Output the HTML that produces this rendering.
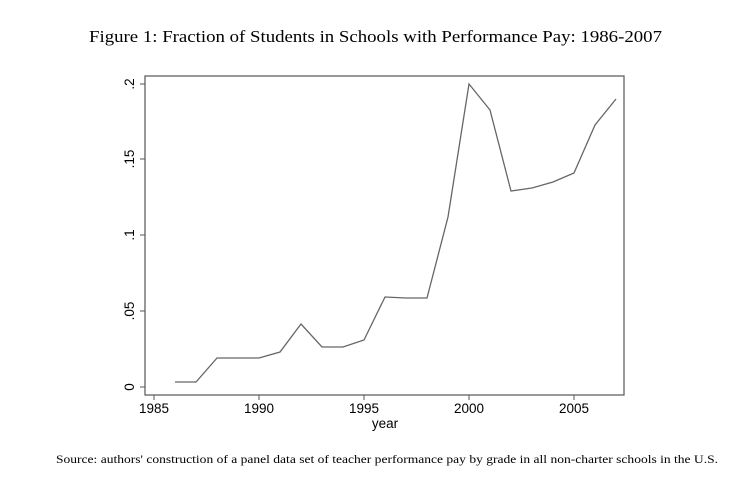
<!DOCTYPE html>
<html><head><style>body{margin:0;background:#fff}</style></head><body>
<svg width="749" height="482" xmlns="http://www.w3.org/2000/svg">
<rect width="749" height="482" fill="#fff"/>
<text x="89" y="42" textLength="573" lengthAdjust="spacingAndGlyphs" font-family="Liberation Serif, serif" font-size="17">Figure 1: Fraction of Students in Schools with Performance Pay: 1986-2007</text>
<rect x="145" y="76" width="479" height="319" fill="none" stroke="#555" stroke-width="1.2"/>
<g stroke="#555" stroke-width="1">
<line x1="140" y1="387" x2="145" y2="387"/><line x1="140" y1="311" x2="145" y2="311"/><line x1="140" y1="235" x2="145" y2="235"/><line x1="140" y1="159" x2="145" y2="159"/><line x1="140" y1="84" x2="145" y2="84"/>
<line x1="154" y1="395" x2="154" y2="400"/><line x1="259" y1="395" x2="259" y2="400"/><line x1="364" y1="395" x2="364" y2="400"/><line x1="469" y1="395" x2="469" y2="400"/><line x1="574" y1="395" x2="574" y2="400"/>
</g>
<g font-family="Liberation Sans, sans-serif" font-size="13.5" text-anchor="middle" fill="#000">
<text transform="translate(134,387) rotate(-90)">0</text>
<text transform="translate(134,311) rotate(-90)">.05</text>
<text transform="translate(134,235) rotate(-90)">.1</text>
<text transform="translate(134,159) rotate(-90)">.15</text>
<text transform="translate(134,84) rotate(-90)">.2</text>
<text x="154" y="413">1985</text><text x="259" y="413">1990</text><text x="364" y="413">1995</text><text x="469" y="413">2000</text><text x="574" y="413">2005</text>
<text x="385" y="428">year</text>
</g>
<polyline fill="none" stroke="#666" stroke-width="1.3" points="175,382 196,382 217,358 238,358 259,358 280,352 301,324 322,347 343,347 364,340 385,297 406,298 427,298 448,217 469,84 490,110 511,191 532,188 553,182 574,173 595,125 616,99"/>
<text x="56" y="463" textLength="662" lengthAdjust="spacingAndGlyphs" font-family="Liberation Serif, serif" font-size="11.5">Source: authors' construction of a panel data set of teacher performance pay by grade in all non-charter schools in the U.S.</text>
</svg>
</body></html>
